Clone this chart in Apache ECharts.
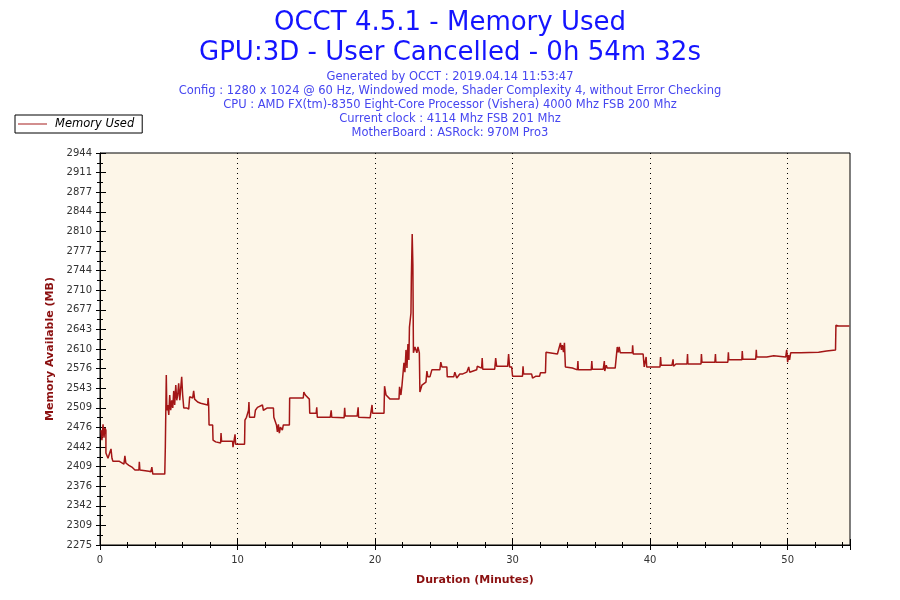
<!DOCTYPE html>
<html><head><meta charset="utf-8">
<script src="https://cdn.jsdelivr.net/npm/echarts@6/dist/echarts.min.js"></script>
<style>html,body{margin:0;padding:0;background:#fff}#c{width:900px;height:600px}</style>
</head><body><div id="c"></div>
<script>
const titleLines = ['OCCT 4.5.1 - Memory Used', 'GPU:3D - User Cancelled - 0h 54m 32s'];
const infoLines = [
  'Generated by OCCT : 2019.04.14 11:53:47',
  'Config : 1280 x 1024 @ 60 Hz, Windowed mode, Shader Complexity 4, without Error Checking',
  'CPU : AMD FX(tm)-8350 Eight-Core Processor (Vishera) 4000 Mhz FSB 200 Mhz',
  'Current clock : 4114 Mhz FSB 201 Mhz',
  'MotherBoard : ASRock: 970M Pro3'
];
const seriesName = 'Memory Used';
const durationMinutes = 54 + 32 / 60;
const yTickLabels = ['2275','2309','2342','2376','2409','2442','2476','2509','2543','2576','2610',
  '2643','2677','2710','2744','2777','2810','2844','2877','2911','2944'];

const minutes = [
  0.07,0.14,0.22,0.29,0.36,0.43,0.43,0.58,0.72,0.80,
  0.87,0.94,1.38,1.45,1.74,1.81,1.88,2.10,2.32,2.54,
  2.83,2.86,2.90,3.55,3.70,3.77,3.84,4.71,4.75,4.82,
  4.86,4.93,5.00,5.07,5.14,5.22,5.29,5.36,5.43,5.51,
  5.58,5.65,5.72,5.80,5.87,5.94,6.01,6.09,6.30,6.45,
  6.52,6.74,6.81,6.88,7.10,7.32,7.46,7.83,7.86,7.90,
  7.93,8.19,8.22,8.41,8.77,8.80,8.84,9.64,9.67,9.78,
  9.82,9.86,10.51,10.54,10.65,10.80,10.83,10.87,11.23,11.30,
  11.45,11.81,11.88,12.17,12.61,12.64,12.83,12.90,12.97,13.04,
  13.12,13.26,13.33,13.77,13.79,14.78,14.82,14.93,15.22,15.25,
  15.72,15.76,15.80,16.74,16.81,16.85,17.75,17.79,17.83,18.70,
  18.77,18.80,19.64,19.78,19.82,20.65,20.69,20.80,21.09,21.74,
  21.78,21.88,21.96,22.03,22.10,22.17,22.25,22.32,22.39,22.46,
  22.50,22.61,22.64,22.70,22.75,22.79,22.90,23.04,23.12,23.22,
  23.26,23.41,23.55,23.70,23.77,23.84,23.99,24.13,24.71,24.78,
  24.86,25.22,25.25,25.72,25.80,25.94,26.16,26.38,26.67,26.81,
  26.88,27.39,27.43,27.46,27.75,27.79,27.83,28.70,28.77,28.84,
  29.64,29.71,29.78,29.93,30.00,30.72,30.76,30.80,31.38,31.45,
  31.59,31.67,31.96,32.03,32.39,32.43,32.54,33.26,33.33,33.48,
  33.55,33.62,33.70,33.77,33.84,34.35,34.42,34.71,34.75,34.78,
  35.72,35.76,35.80,36.59,36.67,36.70,36.81,36.88,37.46,37.54,
  37.61,37.68,37.75,37.83,38.70,38.73,38.77,39.49,39.57,39.71,
  39.75,40.72,40.76,40.80,41.59,41.67,41.70,41.88,42.68,42.72,
  42.75,43.70,43.73,43.77,44.71,44.75,44.78,45.65,45.69,45.72,
  46.67,46.70,46.74,47.68,47.72,47.75,48.48,48.51,48.99,49.02,
  49.86,49.93,50.00,50.07,50.14,50.22,50.94,50.98,52.25,52.28,
  52.83,52.86,53.48,53.51,53.62,53.70,54.49
];
const memoryUsed = [
  2471,2454,2481,2458,2475,2471,2432,2423,2423,2439,
  2423,2418,2418,2415,2413,2427,2415,2411,2408,2403,
  2403,2417,2403,2401,2400,2408,2396,2396,2442,2565,
  2505,2514,2497,2531,2505,2522,2509,2538,2514,2548,
  2522,2531,2551,2522,2543,2562,2531,2509,2509,2507,
  2528,2526,2538,2524,2519,2517,2514,2514,2526,2514,
  2480,2480,2454,2451,2449,2466,2452,2452,2442,2442,
  2464,2447,2447,2488,2493,2505,2519,2493,2493,2505,
  2510,2514,2505,2509,2509,2493,2480,2468,2481,2466,
  2476,2471,2480,2480,2526,2526,2536,2531,2524,2500,
  2500,2510,2493,2493,2505,2493,2492,2509,2495,2495,
  2510,2493,2492,2514,2500,2500,2546,2531,2524,2524,
  2545,2531,2548,2551,2586,2570,2608,2577,2618,2591,
  2647,2671,2732,2806,2753,2603,2613,2603,2613,2603,
  2536,2548,2551,2553,2572,2562,2562,2574,2574,2587,
  2579,2579,2562,2562,2570,2560,2567,2567,2570,2579,
  2570,2574,2580,2577,2577,2594,2575,2575,2594,2580,
  2580,2601,2579,2579,2563,2563,2580,2567,2567,2560,
  2560,2563,2563,2569,2569,2604,2601,2601,2603,2620,
  2608,2616,2604,2620,2579,2577,2574,2574,2589,2574,
  2574,2589,2575,2575,2589,2572,2582,2577,2577,2596,
  2613,2604,2613,2603,2603,2616,2601,2601,2579,2596,
  2579,2579,2596,2582,2582,2592,2580,2584,2584,2601,
  2584,2584,2601,2587,2587,2601,2587,2587,2604,2591,
  2591,2606,2592,2592,2608,2596,2596,2598,2598,2596,
  2596,2608,2587,2599,2591,2603,2603,2604,2604,2606,
  2606,2608,2608,2650,2650,2649,2649
];

const yMin = Number(yTickLabels[0]);
const yStep = yMin / 68;
const yMax = yMin + (yTickLabels.length - 1) * yStep;
const seriesData = minutes.map((t, i) => [t, memoryUsed[i]]);

const chart = echarts.init(document.getElementById('c'), null, {renderer: 'canvas'});
const fontFamily = 'DejaVu Sans';
const xLabelFmt = v => (Math.abs(v % 10) < 1e-6 ? String(Math.round(v)) : '');
const yLabelFmt = v => { const i = Math.round((v - yMin) / yStep); return yTickLabels[i] || ''; };
const axisNameStyle = {fontFamily, fontSize: 11, fontWeight: 'bold', color: '#8b1010'};

chart.setOption({
  animation: false,
  backgroundColor: '#ffffff',
  title: [
    {
      text: titleLines.join('\n'),
      left: 'center', top: 3,
      textStyle: {fontFamily, fontSize: 26, fontWeight: 'normal', color: '#1414ff', lineHeight: 30}
    },
    {
      text: infoLines.join('\n'),
      left: 'center', top: 65,
      textStyle: {fontFamily, fontSize: 11.5, fontWeight: 'normal', color: '#4646f0', lineHeight: 14}
    }
  ],
  legend: {
    left: 15, top: 115,
    orient: 'horizontal',
    backgroundColor: '#ffffff',
    borderColor: '#000000', borderWidth: 1, borderRadius: 0,
    padding: [3, 8, 3, 3],
    itemWidth: 29, itemHeight: 10,
    textStyle: {fontFamily, fontSize: 11.5, fontStyle: 'italic', color: '#000', padding: [0, 0, 0, 3]},
    data: [{name: seriesName, icon: 'path://M0,5 L30,5 L30,6 L0,6 Z'}]
  },
  grid: {
    left: 100, right: 50, top: 153, bottom: 55,
    show: true, backgroundColor: '#fdf6e8', borderColor: '#000', borderWidth: 1
  },
  xAxis: [
    {
      type: 'value', min: 0, max: durationMinutes, interval: 10,
      name: 'Duration (Minutes)', nameLocation: 'middle', nameGap: 30,
      nameTextStyle: axisNameStyle,
      axisLine: {show: true, lineStyle: {color: '#000', width: 1}},
      axisTick: {show: true, length: 5, lineStyle: {color: '#000'}},
      minorTick: {show: true, splitNumber: 5, length: 3, lineStyle: {color: '#000'}},
      axisLabel: {fontFamily, fontSize: 10, color: '#333', margin: 10, showMaxLabel: false, formatter: xLabelFmt},
      splitLine: {show: true, showMinLine: false, showMaxLine: false,
        lineStyle: {color: '#000', width: 1, type: [1, 4]}}
    },
    {
      type: 'value', min: 0, max: durationMinutes, interval: 10, position: 'bottom',
      axisLine: {show: false},
      axisTick: {show: true, inside: true, length: 6, lineStyle: {color: '#000'}},
      minorTick: {show: true, splitNumber: 5, length: 3, lineStyle: {color: '#000'}},
      axisLabel: {show: false},
      splitLine: {show: false}
    }
  ],
  yAxis: [
    {
      type: 'value', min: yMin, max: yMax, interval: yStep,
      name: 'Memory Available (MB)', nameLocation: 'middle', nameGap: 44, nameRotate: 90,
      nameTextStyle: axisNameStyle,
      axisLine: {show: true, lineStyle: {color: '#000', width: 1}},
      axisTick: {show: true, length: 4, lineStyle: {color: '#000'}},
      minorTick: {show: true, splitNumber: 2, length: 3, lineStyle: {color: '#000'}},
      axisLabel: {fontFamily, fontSize: 10, color: '#333', margin: 8, formatter: yLabelFmt},
      splitLine: {show: false}
    },
    {
      type: 'value', min: yMin, max: yMax, interval: yStep, position: 'left',
      axisLine: {show: false},
      axisTick: {show: true, inside: true, length: 6, lineStyle: {color: '#000'}},
      minorTick: {show: true, splitNumber: 2, length: 3, lineStyle: {color: '#000'}},
      axisLabel: {show: false},
      splitLine: {show: false}
    }
  ],
  series: [{
    name: seriesName, type: 'line', data: seriesData,
    xAxisIndex: 0, yAxisIndex: 0,
    symbol: 'none', smooth: false,
    lineStyle: {color: '#a31616', width: 1.5},
    itemStyle: {color: '#a31616'}
  }]
});
</script>
</body></html>
